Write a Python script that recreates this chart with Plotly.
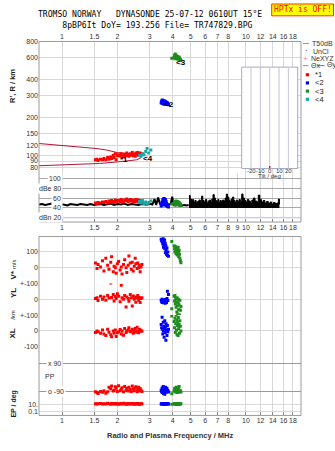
import math
import plotly.graph_objects as go

# ---------------- frequency axis ----------------
freq_ticks = [1, 1.5, 2, 3, 4, 5, 6, 7, 8, 10, 12, 14, 16, 18]
freq_ticks_mid = [1, 1.5, 2, 3, 4, 5, 6, 7, 8, 9, 10, 12, 14, 16, 18]
height_ticks = [80, 90, 100, 120, 150, 200, 300, 400, 600, 800]
amp_ticks = [40, 60, 80, 100]
amp_label_vals = [100, 80, 60, 40, 20]
amp_label_text = ["100", "dBe 80", "60", "40", "dBn 20"]
tilt_ticks = [-20, -10, 0, 10, 20]
tilt_vals = [0]
tilt_counts = [1]

# ---------------- virtual height envelope ----------------
env_hi_f = [0.75, 1.0, 1.25, 1.55, 1.75, 2.0, 2.3, 2.7]
env_hi_h = [124, 120, 116, 113, 110, 105, 103, 102]
env_lo_f = [0.75, 1.0, 1.3, 1.6, 2.0, 2.3, 2.55, 2.7]
env_lo_h = [82.5, 83.5, 85, 86, 88.5, 90, 92, 96]

# ---------------- echo mode 1 (red) ----------------
red_f = [1.52, 1.55, 1.57, 1.62, 1.66, 1.69, 1.73, 1.77, 1.80, 1.84,
         1.86, 1.90, 1.92, 1.95, 1.97, 2.00, 2.03, 2.07, 2.10, 2.12,
         2.16, 2.19, 2.23, 2.25, 2.29, 2.31, 2.35, 2.38, 2.41, 2.44,
         2.47, 2.50, 2.52, 2.56, 2.58, 2.61, 2.63, 2.66, 2.69, 2.72]
red_h = [92, 93, 91, 93, 92, 94, 92, 96, 93, 97,
         94, 100, 96, 103, 92, 99, 101, 98, 103, 100,
         97, 102, 99, 104, 101, 98, 103, 100, 105, 99,
         102, 98, 104, 101, 105, 100, 103, 104, 101, 103]
red_amp = [50, 49, 51, 50, 52, 51, 53, 50, 54, 52,
           55, 51, 53, 56, 52, 54, 55, 53, 57, 54,
           52, 56, 55, 58, 53, 55, 57, 54, 56, 52,
           55, 53, 57, 54, 56, 52, 55, 53, 54, 52]
red_vstar = [30, -5, 20, 5, 45, -20, 60, 15, -10, 35,
             70, -25, 10, 0, -35, 25, 40, -15, 5, -40,
             20, 50, 0, -30, 15, 75, 30, -10, 35, -20,
             10, 60, 25, -5, 30, 0, 15, -25, 5, 20]
red_yl = [5, 10, -8, 20, 0, 15, -5, 25, 8, 104,
          12, 30, -10, 18, 5, 35, 20, -15, 89, 10,
          0, 25, -48, 15, 5, -12, 30, 10, -42, 22,
          0, 15, -18, 8, 25, -5, 12, -20, 5, 10]
red_xl = [-10, 0, -5, -15, 5, -20, -30, 10, -8, -25,
          -38, 0, -15, 5, -35, -12, -5, 8, -20, 0,
          -28, 15, -10, 0, 5, 20, -5, 0, 10, -15,
          0, 15, -8, 23, 0, -12, 10, 5, -3, 0]
red_pp = [-95, -100, -105, -92, -98, -88, -104, -95, -65, -75,
          -58, -90, -85, -62, -72, -92, -55, -88, -78, -68,
          -95, -60, -85, -72, -90, -65, -80, -92, -58, -75,
          -88, -70, -62, -95, -80, -66, -90, -74, -85, -92]
red_ep = [15, 12, 14, 16, 13, 15, 12, 18, 14, 11,
          16, 13, 15, 17, 12, 14, 10, 16, 13, 15,
          19, 12, 14, 11, 16, 13, 15, 12, 17, 14,
          10, 15, 13, 16, 12, 14, 11, 15, 13, 14]

# ---------------- echo mode 2 (blue) ----------------
blue_f = [3.46, 3.48, 3.50, 3.51, 3.53, 3.55, 3.56, 3.58, 3.59, 3.61,
          3.62, 3.64, 3.65, 3.67, 3.68, 3.70, 3.72, 3.74, 3.76, 3.79]
blue_h = [262, 270, 258, 275, 266, 260, 272, 255, 268, 264,
          270, 258, 263, 267, 256, 261, 259, 262, 257, 253]
blue_amp = [44, 48, 52, 46, 56, 50, 58, 54, 59, 47,
            55, 51, 57, 45, 53, 49, 44, 47, 43, 42]
blue_vstar = [180, 172, 165, 178, 150, 183, 130, 160, 145, 175,
              120, 155, 95, 140, 110, 85, 125, 78, 100, 72]
blue_yl = [-5, -15, 0, -20, -10, -8, -22, -3, -12, -18,
           -6, -25, -10, -2, -15, -20, 5, 52, -8, 30]
blue_xl = [40, 20, 86, 10, -20, 55, 0, 30, -40, 15,
           65, -10, 25, -60, 45, 5, -30, 35, -5, 10]
blue_pp = [-85, -95, -70, -100, -90, -60, -105, -80, -92, -75,
           -110, -88, -65, -98, -82, -94, -72, -90, -86, -96]
blue_ep = [12, 15, 13, 14, 16, 12, 15, 13, 14, 17,
           12, 13, 15, 14, 12, 16, 13, 15, 14, 12]

# ---------------- echo mode 3 (green) ----------------
green_f = [3.95, 4.07, 4.09, 4.11, 4.13, 4.15, 4.17, 4.19, 4.21, 4.22,
           4.24, 4.26, 4.28, 4.29, 4.31, 4.33, 4.35, 4.37, 4.40, 4.43]
green_h = [592, 600, 625, 585, 640, 610, 595, 620, 605, 590,
           612, 580, 600, 596, 588, 605, 592, 584, 578, 570]
green_amp = [48, 50, 53, 46, 52, 49, 54, 47, 51, 50,
             53, 48, 52, 49, 51, 47, 50, 46, 48, 45]
green_vstar = [166, 140, 120, 100, 135, 110, 90, 125, 105, 80,
               115, 95, 130, 100, 70, 110, 85, 60, 45, 31]
green_yl = [-60, 20, -10, 25, -30, 5, -50, -15, -80, 10,
            -40, -95, -20, 0, -65, -35, -100, -5, -70, -45]
green_xl = [95, 60, 20, 80, -10, 45, 100, 5, 70, -25,
            35, 55, -30, 85, 15, 40, -15, 65, 30, 0]
green_pp = [-107, -88, -75, -95, -70, -92, -85, -65, -100, -80,
            -90, -72, -98, -78, -88, -60, -94, -84, -90, -96]
green_ep = [10, 14, 12, 15, 13, 16, 12, 14, 11, 15,
            13, 12, 16, 14, 13, 15, 12, 14, 13, 15]

# ---------------- echo mode 4 (teal) ----------------
teal_f = [2.64, 2.69, 2.74, 2.79, 2.85, 2.90, 2.96, 3.04]
teal_h = [100, 98, 103, 101, 107, 113, 104, 110]
teal_amp = [53, 50, 55, 49, 52, 47, 51, 54]

# ---------------- receiver noise (T50dB) ----------------
noise_lo_f = [0.75, 0.78, 0.81, 0.84, 0.88, 0.91, 0.95, 0.99, 1.03, 1.07,
              1.11, 1.16, 1.21, 1.26, 1.31, 1.37, 1.43, 1.49, 1.55, 1.62,
              1.69, 1.76, 1.84, 1.92, 2.0, 2.09, 2.18, 2.28, 2.38, 2.49,
              2.6, 2.72, 2.84, 2.97, 3.1, 3.18, 3.25, 3.33, 3.41, 3.5,
              3.6, 3.7, 3.8, 3.9, 3.97, 4.05, 4.15, 4.26, 4.38, 4.5,
              4.63, 4.76, 4.88]
noise_lo_db = [47, 48, 46, 47, 49, 47, 46, 48, 47, 45,
               48, 47, 46, 48, 47, 46, 48, 46, 47, 48,
               46, 47, 49, 46, 48, 47, 49, 46, 48, 47,
               46, 48, 47, 49, 47, 58, 46, 61, 48, 46,
               47, 45, 46, 48, 63, 46, 45, 46, 44, 45,
               46, 45, 46]
noise_hi_f = [4.90, 4.98, 5.05, 5.12, 5.20, 5.28, 5.36, 5.45, 5.55, 5.65,
              5.74, 5.82, 5.92, 6.02, 6.12, 6.22, 6.32, 6.42, 6.52, 6.62,
              6.72, 6.82, 6.92, 7.02, 7.12, 7.22, 7.34, 7.46, 7.58, 7.70,
              7.82, 7.94, 8.06, 8.18, 8.30, 8.44, 8.58, 8.72, 8.86, 9.00,
              9.16, 9.32, 9.48, 9.64, 9.80, 9.98, 10.16, 10.36, 10.56, 10.76,
              10.98, 11.2, 11.44, 11.66, 11.9, 12.14, 12.4, 12.66, 12.94,
              13.22, 13.5, 13.8, 14.1, 14.4, 14.7, 15.0, 15.2]
noise_hi_db = [65, 58, 54, 57, 52, 55, 50, 53, 56, 51,
               64, 55, 52, 57, 50, 54, 56, 52, 58, 67,
               60, 55, 53, 57, 51, 55, 52, 56, 54, 60,
               68, 62, 56, 53, 58, 62, 55, 51, 56, 53,
               57, 52, 68, 60, 55, 52, 57, 54, 50, 56,
               60, 54, 52, 66, 57, 52, 55, 50, 53,
               49, 52, 48, 51, 49, 50, 58, 47]
noise_floor_db = 40

# mode tags drawn beside each echo trace
mode_tags = ["*1", "<2", "<3", "<4"]
mode_tag_f = [2.17, 3.82, 4.43, 2.95]
mode_tag_h = [93, 255, 552, 95]
mode_colors = ["#ff0000", "#0000ff", "#1e8c1e", "#17a8a8"]

# ---------------- layout helpers ----------------
W, H = 335, 451


def fx(p):
    return p / W


def fy(p):
    return 1 - p / H


X_DOM = [fx(39), fx(301)]
X_RANGE = [-0.125, 1.299]
SANS = "Liberation Sans, Arial, sans-serif"
MONO = "DejaVu Sans Mono, Liberation Mono, monospace"
TICK_FONT = dict(family=SANS, size=7, color="#333333")
GRID = "#d8d8d8"

fig = go.Figure()


def dots(x, y, color, xa, ya, size=3):
    fig.add_trace(go.Scatter(
        x=x, y=y, xaxis=xa, yaxis=ya, mode="markers",
        marker=dict(symbol="square", size=size, color=color, line=dict(width=0)),
        showlegend=False, hoverinfo="skip"))


# ---- panel A: virtual height ----
for ef, eh in ((env_hi_f, env_hi_h), (env_lo_f, env_lo_h)):
    fig.add_trace(go.Scatter(x=ef, y=eh, xaxis="x", yaxis="y", mode="lines",
                             line=dict(color="#b0183a", width=1),
                             showlegend=False, hoverinfo="skip"))
dots(red_f, red_h, mode_colors[0], "x", "y")
dots(teal_f, teal_h, mode_colors[3], "x", "y")
dots(blue_f, blue_h, mode_colors[1], "x", "y")
dots(green_f, green_h, mode_colors[2], "x", "y")

# ---- panel B: amplitude ----
fig.add_trace(go.Scatter(x=noise_hi_f, y=[noise_floor_db] * len(noise_hi_f),
                         xaxis="x2", yaxis="y2", mode="lines", line=dict(width=0, shape="hv"),
                         showlegend=False, hoverinfo="skip"))
fig.add_trace(go.Scatter(x=noise_hi_f, y=noise_hi_db, xaxis="x2", yaxis="y2",
                         mode="lines", line=dict(color="black", width=1, shape="hv"),
                         fill="tonexty", fillcolor="black",
                         showlegend=False, hoverinfo="skip"))
fig.add_trace(go.Scatter(x=noise_lo_f, y=noise_lo_db, xaxis="x2", yaxis="y2",
                         mode="lines", line=dict(color="black", width=2),
                         showlegend=False, hoverinfo="skip"))
dots(red_f, red_amp, mode_colors[0], "x2", "y2")
dots(teal_f, teal_amp, mode_colors[3], "x2", "y2")
dots(blue_f, blue_amp, mode_colors[1], "x2", "y2")
dots(green_f, green_amp, mode_colors[2], "x2", "y2")

# ---- panel C: Doppler velocity, location, polarization ----
bands = [("y3", red_vstar, blue_vstar, green_vstar),
         ("y4", red_yl, blue_yl, green_yl),
         ("y5", red_xl, blue_xl, green_xl),
         ("y6", red_pp, blue_pp, green_pp),
         ("y7", red_ep, blue_ep, green_ep)]
for ya, rv, bv, gv in bands:
    dots(red_f, rv, mode_colors[0], "x3", ya)
    dots(blue_f, bv, mode_colors[1], "x3", ya)
    dots(green_f, gv, mode_colors[2], "x3", ya)

# ---- axes ----
freq_text = [("%g" % v) for v in freq_ticks]
base_x = dict(type="log", range=X_RANGE, domain=X_DOM, showgrid=True, gridcolor=GRID,
              gridwidth=1, zeroline=False, showline=False, tickfont=TICK_FONT,
              ticks="", tickvals=freq_ticks, ticktext=freq_text, tickangle=0)
base_y = dict(zeroline=False, showline=False, tickfont=TICK_FONT, ticks="",
              gridcolor=GRID, gridwidth=1)

layout_axes = dict(
    xaxis=dict(base_x, anchor="y", side="top"),
    yaxis=dict(base_y, type="log", domain=[fy(172), fy(39)], range=[1.861, 2.9055],
               anchor="x", tickvals=height_ticks, ticktext=[str(v) for v in height_ticks]),
    xaxis2=dict(base_x, anchor="y2", matches="x", tickvals=freq_ticks_mid,
                ticktext=[("%g" % v) for v in freq_ticks_mid], ticks="inside",
                ticklen=3, tickcolor="#888"),
    yaxis2=dict(base_y, domain=[fy(222), fy(172)], range=[11.4, 111.4], anchor="x2",
                tickvals=amp_ticks, showticklabels=False, gridcolor="#a8a8a8"),
    xaxis3=dict(base_x, anchor="y7", matches="x", ticks="inside", ticklen=3,
                tickcolor="#888"),
    yaxis3=dict(base_y, domain=[fy(284.3), fy(236.7)], range=[-100, 197.5], anchor="x3",
                tickvals=[100, 0], ticktext=["100", "0"]),
    yaxis4=dict(base_y, domain=[fy(316.3), fy(284.3)], range=[-100, 100.5], anchor="x3",
                tickvals=[100, 0], ticktext=["+-100", "0"]),
    yaxis5=dict(base_y, domain=[fy(348.3), fy(316.3)], range=[-100.5, 100.5], anchor="x3",
                tickvals=[100, 0, -100], ticktext=["+-100", "0", "-100"]),
    yaxis6=dict(base_y, domain=[fy(400), fy(348.3)], range=[-132.6, 196.2], anchor="x3",
                tickvals=[90, -90], showticklabels=False, gridcolor="#9a9a9a"),
    yaxis7=dict(base_y, type="log", domain=[fy(418), fy(400)], range=[-2.096, 2.836],
                anchor="x3", tickvals=[10, 0.1], ticktext=["10.", "0.1"]),
    xaxis4=dict(domain=[fx(241.7), fx(297.7)], range=[-30, 30], anchor="y8",
                showgrid=False, zeroline=False, showticklabels=False, showline=False),
    yaxis8=dict(domain=[fy(167.7), fy(65)], range=[0, 40], anchor="x4",
                showgrid=False, zeroline=False, showticklabels=False, showline=False),
)

shapes = []
# panel outlines
shapes.append(dict(type="rect", xref="paper", yref="paper", x0=fx(39), x1=fx(301),
                   y0=fy(222), y1=fy(39), line=dict(color="#9a9a9a", width=1), layer="above"))
shapes.append(dict(type="rect", xref="paper", yref="paper", x0=fx(39), x1=fx(301),
                   y0=fy(418), y1=fy(236.7), line=dict(color="#9a9a9a", width=1), layer="above"))
# dBn reference line
shapes.append(dict(type="line", xref="paper", yref="y2", x0=fx(39), x1=fx(301),
                   y0=20, y1=20, line=dict(color="#b8b8f0", width=1), layer="below"))
# tilt inset: white panel, grid, histogram bar
shapes.append(dict(type="rect", xref="paper", yref="paper", x0=fx(241.7), x1=fx(297.7),
                   y0=fy(167.7), y1=fy(65), fillcolor="white",
                   line=dict(color="#a8a8c0", width=1), layer="above"))
for t in tilt_ticks:
    shapes.append(dict(type="line", xref="x4", yref="paper", x0=t, x1=t,
                       y0=fy(167.7), y1=fy(65), line=dict(color="#c4c4d8", width=1),
                       layer="above"))
for t, c in zip(tilt_vals, tilt_counts):
    shapes.append(dict(type="rect", xref="x4", yref="y8", x0=t - 0.7, x1=t + 0.7,
                       y0=0, y1=c, fillcolor="#ff0000", line=dict(width=0), layer="above"))
# key on the right
shapes.append(dict(type="line", xref="paper", yref="paper", x0=fx(303), x1=fx(309),
                   y0=fy(41), y1=fy(41), line=dict(color="#999", width=1)))
shapes.append(dict(type="line", xref="paper", yref="paper", x0=fx(303), x1=fx(308.5),
                   y0=fy(63.5), y1=fy(63.5), line=dict(color="#ff6060", width=1)))
shapes.append(dict(type="line", xref="paper", yref="paper", x0=fx(317.5), x1=fx(324.5),
                   y0=fy(63.5), y1=fy(63.5), line=dict(color="#6060ff", width=1)))
for i, c in enumerate(mode_colors):
    yc = 72.7 + i * 8.3
    shapes.append(dict(type="rect", xref="paper", yref="paper", x0=fx(305.8), x1=fx(309),
                       y0=fy(yc + 1.6), y1=fy(yc - 1.6), fillcolor=c, line=dict(width=0)))
# status box
shapes.append(dict(type="rect", xref="paper", yref="paper", x0=fx(271.7), x1=fx(333.5),
                   y0=fy(13), y1=fy(1), fillcolor="#ffff00",
                   line=dict(color="#ff3000", width=1)))

ann = []


def txt(x, y, s, size=7.5, color="#333333", anchor="center", family=SANS, angle=0,
        bg=None, xref="paper", yref="paper"):
    d = dict(x=x, y=y, xref=xref, yref=yref, text=s, showarrow=False,
             xanchor=anchor, yanchor="middle", textangle=angle,
             font=dict(family=family, size=size, color=color))
    if bg:
        d["bgcolor"] = bg
    ann.append(d)


# header (two lines in one block)
NB = "\u00a0"
txt(fx(150), fy(16.3),
    "TROMSO NORWAY" + NB * 3 + "DYNASONDE 25-07-12 0610UT 15°E<br>"
    + NB * 3 + "8pBP6It DoY= 193.256 File= TR747829.BPG",
    size=8.1, color="black", family=MONO)
txt(fx(302.6), fy(7), "HPTx is OFF!", size=8, color="#ff0000", family=MONO)

# axis titles
txt(fx(13), fy(84), "<b>R', R / km</b>", size=7.5, color="#222", angle=-90)
txt(fx(13), fy(270), "<b>V*</b> <span style='font-size:5.5px'>m/s</span>", size=8,
    color="#222", angle=-90)
txt(fx(13), fy(294), "<b>YL</b>", size=8, color="#222", angle=-90)
txt(fx(13), fy(316), "/km", size=6, color="#222", angle=-90)
txt(fx(13), fy(335), "<b>XL</b>", size=8, color="#222", angle=-90)
txt(fx(14), fy(406), "<b>EP / deg</b>", size=7, color="#222", angle=-90)
txt(fx(170), fy(438.7), "<b>Radio and Plasma Frequency / MHz</b>", size=7.5, color="#333")

# amplitude labels drawn inside the panel
for v, s in zip(amp_label_vals, amp_label_text):
    txt(fx(62.5), v, s, size=7, anchor="right", bg="white", yref="y2")

# polarization labels inside the lower panel
txt(fx(46), 90, "x 90", size=7, anchor="left", bg="white", yref="y6")
txt(fx(42.5), fy(379), "PP", size=7, anchor="left")
txt(fx(46), -90, "o -90", size=7, anchor="left", bg="white", yref="y6")

# key text
txt(fx(310), fy(41), "T50dB", size=7, anchor="left")
txt(fx(306.5), fy(48.6), "·", size=8, color="black")
txt(fx(310.5), fy(49), "UnCl", size=7, anchor="left")
txt(fx(305.2), fy(56.7), "+", size=8, color="#ff7090")
txt(fx(308.5), fy(56.7), "NeXYZ", size=7, anchor="left")
txt(fx(308.6), fy(63.3), "Θx", size=7, anchor="left")
txt(fx(324.6), fy(63.3), "Θy", size=7, anchor="left")
for i, s in enumerate(mode_tags):
    txt(fx(312.5), fy(72.7 + i * 8.3), s, size=7.5, color="#222", anchor="left")

# mode tags next to the echoes
for s, f, h in zip(mode_tags, mode_tag_f, mode_tag_h):
    ann.append(dict(x=math.log10(f), y=math.log10(h),
                    xref="x", yref="y", text="<b>%s</b>" % s, showarrow=False,
                    xanchor="center", yanchor="middle",
                    font=dict(family=SANS, size=8, color="black")))

# tilt inset labels
for t in tilt_ticks:
    txt(t, fy(170.3), "%d" % t, size=6, xref="x4")
txt(fx(269.7), fy(175.5), "Tilt / deg", size=6)

fig.update_layout(
    width=W, height=H, margin=dict(l=0, r=0, t=0, b=0),
    paper_bgcolor="white", plot_bgcolor="white",
    shapes=shapes, annotations=ann, showlegend=False,
    **layout_axes)

fig.write_html("out.html")
